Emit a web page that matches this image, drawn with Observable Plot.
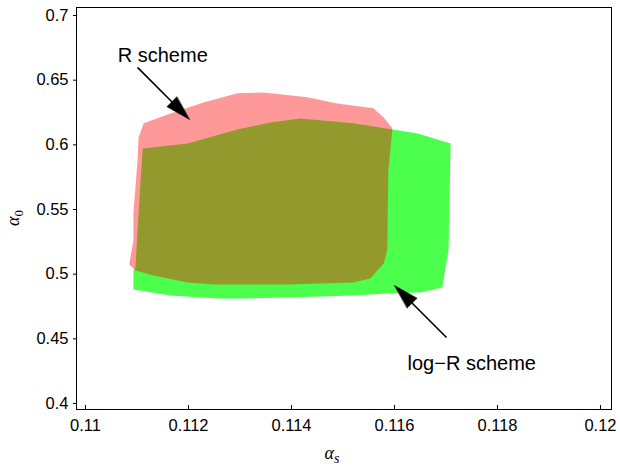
<!DOCTYPE html>
<html><head><meta charset="utf-8">
<script src="https://cdn.jsdelivr.net/npm/d3@7"></script>
<script src="https://cdn.jsdelivr.net/npm/@observablehq/plot@0.6"></script>
<style>body{margin:0;background:#fff} #chart svg{display:block}</style>
</head><body><div id="chart"></div>
<script>
// ---- data ----
const xTicks = [0.11, 0.112, 0.114, 0.116, 0.118, 0.12];
const xTickLabels = ["0.11", "0.112", "0.114", "0.116", "0.118", "0.12"];
const yTicks = [0.4, 0.45, 0.5, 0.55, 0.6, 0.65, 0.7];
const yTickLabels = ["0.4", "0.45", "0.5", "0.55", "0.6", "0.65", "0.7"];

// R scheme allowed region (boundary, alpha_s, alpha_0)
const rSchemeAlphaS = [0.11113, 0.11165, 0.11229, 0.11295, 0.11346, 0.11431, 0.11489, 0.11559, 0.11579, 0.11596,
  0.11588, 0.11586, 0.11579, 0.11553, 0.11520, 0.11392, 0.11249, 0.11198, 0.11132, 0.11097, 0.11085,
  0.11093, 0.11093, 0.11101, 0.11103];
const rSchemeAlpha0 = [0.6166, 0.6243, 0.6328, 0.6398, 0.6405, 0.6367, 0.6320, 0.6282, 0.6212, 0.6127,
  0.5802, 0.5183, 0.5083, 0.4967, 0.4936, 0.4920, 0.4920, 0.4936, 0.4990, 0.5029, 0.5075,
  0.5261, 0.5469, 0.5879, 0.6057];

// log-R scheme allowed region
const logRSchemeAlphaS = [0.11111, 0.11198, 0.11295, 0.11359, 0.11417, 0.11520, 0.11596, 0.11645, 0.11709,
  0.11705, 0.11699, 0.11693, 0.11650, 0.11586, 0.11520, 0.11392, 0.11315, 0.11256, 0.11165, 0.11093,
  0.11093, 0.11097, 0.11101, 0.11107];
const logRSchemeAlpha0 = [0.5972, 0.6011, 0.6119, 0.6173, 0.6204, 0.6166, 0.6119, 0.6088, 0.6011,
  0.5183, 0.5052, 0.4897, 0.4858, 0.4851, 0.4835, 0.4820, 0.4812, 0.4812, 0.4835, 0.4882,
  0.5029, 0.5052, 0.5338, 0.5725];

// annotations
const labelTexts = ["R scheme", "log\u2212R scheme"];
const labelX = [0.11150, 0.11750];
const labelY = [0.6691, 0.4309];
const arrowTailX = [0.11101, 0.11701];
const arrowTailY = [0.6599, 0.4510];
const arrowTipX = [0.11202, 0.11600];
const arrowTipY = [0.6196, 0.4913];

// ---- layout ----
const W = 620, H = 469;
const mL = 76, mR = 9, mT = 7, mB = 60;
const xDomain = [0.109825, 0.120214];
const yDomain = [0.39536, 0.70619];

const toTable = (xs, ys, id) => xs.map((x, i) => ({x, y: ys[i], id}));
const rTable = toTable(rSchemeAlphaS, rSchemeAlpha0, "R");
const gTable = toTable(logRSchemeAlphaS, logRSchemeAlpha0, "logR");
const labels = labelTexts.map((t, i) => ({t, x: labelX[i], y: labelY[i]}));

// scales (same as Plot's) to build arrowheads
const sx = d3.scaleLinear(xDomain, [mL, W - mR]);
const sy = d3.scaleLinear(yDomain, [H - mB, mT]);
const headLen = 25, headHalf = 7;
const heads = [], shafts = [];
arrowTipX.forEach((_, i) => {
  const tx = sx(arrowTipX[i]), ty = sy(arrowTipY[i]);
  const ax = sx(arrowTailX[i]), ay = sy(arrowTailY[i]);
  const dx = tx - ax, dy = ty - ay, L = Math.hypot(dx, dy);
  const ux = dx / L, uy = dy / L;
  const bx = tx - ux * headLen, by = ty - uy * headLen;
  const px = -uy, py = ux;
  const pts = [[tx, ty], [bx + px * headHalf, by + py * headHalf], [bx - px * headHalf, by - py * headHalf]];
  pts.forEach(p => heads.push({x: sx.invert(p[0]), y: sy.invert(p[1]), id: i}));
  shafts.push({x1: arrowTailX[i], y1: arrowTailY[i], x2: sx.invert(bx + ux * 2), y2: sy.invert(by + uy * 2)});
});

const tickLenY = sy.invert(H - mB - 4) - yDomain[0];

const chart = Plot.plot({
  width: W, height: H,
  marginLeft: mL, marginRight: mR, marginTop: mT, marginBottom: mB,
  style: {fontFamily: "'Liberation Sans', Arial, Helvetica, sans-serif", background: "white"},
  x: {domain: xDomain, label: null},
  y: {domain: yDomain, label: null},
  marks: [
    Plot.line(gTable, {x: "x", y: "y", z: "id", fill: "#4cff4c", stroke: "none", curve: "linear-closed"}),
    Plot.line(rTable, {x: "x", y: "y", z: "id", fill: "#ff0000", fillOpacity: 0.4, stroke: "none", curve: "linear-closed"}),
    Plot.frame({stroke: "black", strokeWidth: 1}),
    Plot.ruleX(xTicks, {x: d => d, y1: yDomain[0], y2: yDomain[0] + tickLenY, stroke: "black"}),
    Plot.axisX({ticks: xTicks, tickFormat: d => xTickLabels[xTicks.indexOf(d)], tickSize: 0, tickPadding: 10, fontSize: 16.5, label: null}),
    Plot.axisY({ticks: yTicks, tickFormat: d => yTickLabels[yTicks.indexOf(d)], tickSize: 3, tickPadding: 5, fontSize: 16.5, label: null}),
    Plot.link(shafts, {x1: "x1", y1: "y1", x2: "x2", y2: "y2", stroke: "black", strokeWidth: 1.6}),
    Plot.line(heads, {x: "x", y: "y", z: "id", fill: "black", stroke: "black", strokeWidth: 0.5, curve: "linear-closed"}),
    Plot.text(labels, {x: "x", y: "y", text: "t", fontSize: 20, fill: "black"})
  ]
});
document.getElementById("chart").appendChild(chart);

// axis titles (alpha_s, alpha_0) with subscripts
const svg = d3.select(chart);
const xt = svg.append("text")
  .attr("x", 332).attr("y", 459)
  .attr("font-family", "'Liberation Serif', 'DejaVu Serif', serif")
  .attr("font-style", "italic").attr("font-size", 18).attr("fill", "black");
xt.append("tspan").text("\u03b1");
xt.append("tspan").attr("font-size", 14).attr("dy", 4).text("s");

const yt = svg.append("text")
  .attr("transform", "translate(19,218) rotate(-90)")
  .attr("font-family", "'Liberation Serif', 'DejaVu Serif', serif")
  .attr("font-style", "italic").attr("font-size", 18).attr("fill", "black");
yt.append("tspan").text("\u03b1");
yt.append("tspan").attr("font-size", 13).attr("font-style", "normal").attr("dy", 4).text("0");
</script>
</body></html>
